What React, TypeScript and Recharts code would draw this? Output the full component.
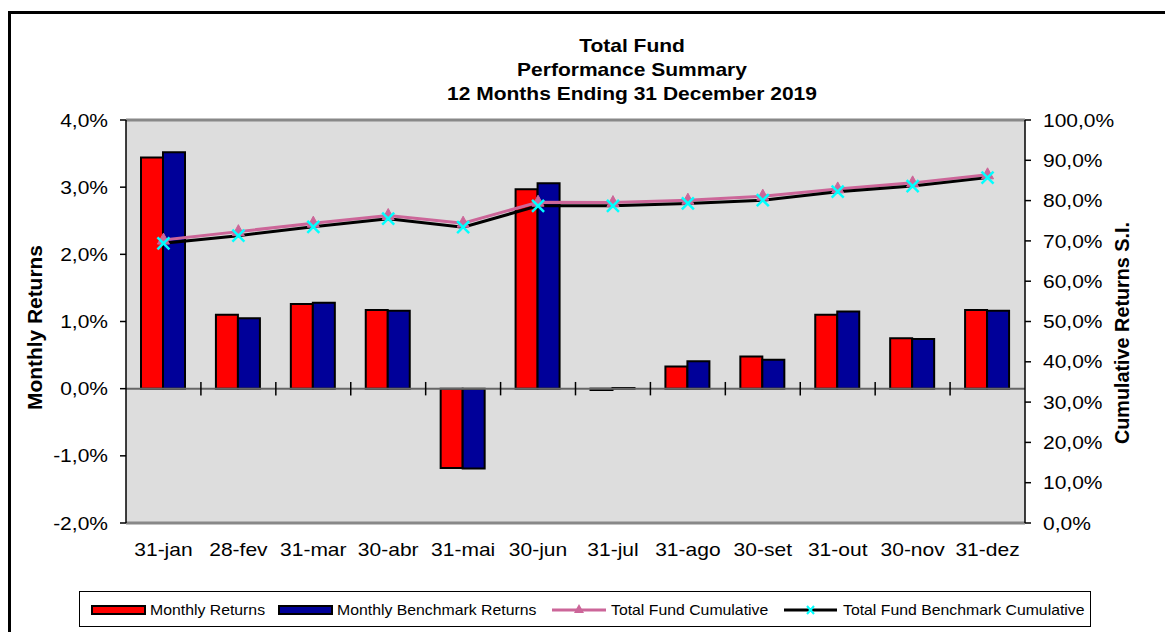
import React from 'react';
import { ComposedChart, Bar, Line, XAxis, YAxis, CartesianGrid, ReferenceLine } from 'recharts';

const categories = ['31-jan', '28-fev', '31-mar', '30-abr', '31-mai', '30-jun', '31-jul', '31-ago', '30-set', '31-out', '30-nov', '31-dez'];
const monthlyReturns = [3.44, 1.1, 1.26, 1.17, -1.18, 2.97, -0.02, 0.33, 0.48, 1.1, 0.75, 1.17];
const benchmarkReturns = [3.52, 1.05, 1.28, 1.16, -1.19, 3.06, 0.01, 0.41, 0.43, 1.15, 0.74, 1.16];
const fundCumulative = [70.2, 72.3, 74.4, 76.3, 74.4, 79.6, 79.5, 80.1, 81.1, 82.9, 84.4, 86.4];
const benchCumulative = [69.4, 71.3, 73.5, 75.5, 73.4, 78.7, 78.7, 79.3, 80.1, 82.2, 83.6, 85.7];
const leftTicks = [-2, -1, 0, 1, 2, 3, 4];
const rightTicks = [0, 10, 20, 30, 40, 50, 60, 70, 80, 90, 100];
const titleLines = ['Total Fund', 'Performance Summary', '12 Months Ending 31 December 2019'];
const seriesNames = ['Monthly Returns', 'Monthly Benchmark Returns', 'Total Fund Cumulative', 'Total Fund Benchmark Cumulative'];

const data = categories.map((month, i) => ({
  month,
  fund: monthlyReturns[i],
  bench: benchmarkReturns[i],
  fundCum: fundCumulative[i],
  benchCum: benchCumulative[i],
}));

const FONT = '"Liberation Sans", Arial, Helvetica, sans-serif';
const SX = 1.13;
const RED = '#FF0000';
const BLUE = '#000099';
const PINK = '#CC6699';
const CYAN = '#00FFFF';

const pct = (v: number) => v.toFixed(1).replace('.', ',') + '%';

const YTick = (props: any) => {
  const { x, y, payload, textAnchor } = props;
  return (
    <text transform={`translate(${x},${y}) scale(${SX},1)`} textAnchor={textAnchor} dy="0.355em" fontSize={18.6} fontFamily={FONT} fill="#000">
      {pct(payload.value)}
    </text>
  );
};

const XTick = (props: any) => {
  const { x, y, payload } = props;
  return (
    <text transform={`translate(${x},${y}) scale(${SX},1)`} textAnchor="middle" dy="0.71em" fontSize={18.6} fontFamily={FONT} fill="#000">
      {payload.value}
    </text>
  );
};

const Triangle = (props: any) => {
  const { cx, cy } = props;
  if (cx == null || cy == null) return null;
  return <path d={`M${cx},${cy - 7} L${cx + 6},${cy + 4} L${cx - 6},${cy + 4} Z`} fill={PINK} stroke={PINK} strokeWidth={1} />;
};

const XMark = (props: any) => {
  const { cx, cy } = props;
  if (cx == null || cy == null) return null;
  const s = 6;
  return (
    <g>
      <line x1={cx - s} y1={cy - s} x2={cx + s} y2={cy + s} stroke={CYAN} strokeWidth={2.5} />
      <line x1={cx - s} y1={cy + s} x2={cx + s} y2={cy - s} stroke={CYAN} strokeWidth={2.5} />
    </g>
  );
};

const legendLayout = [
  { sx: 92, tx: 150 },
  { sx: 279, tx: 337 },
  { sx: 552, tx: 611 },
  { sx: 784, tx: 843 },
];

export default function App() {
  return (
    <div style={{ position: 'absolute', left: 0, top: 0, width: 1165, height: 632, overflow: 'hidden', background: '#fff' }}>
      <div style={{ position: 'absolute', left: 8, top: 11, width: 1300, height: 800, border: '3px solid #000', boxSizing: 'border-box' }} />
      <div style={{ position: 'absolute', left: 0, top: 0 }}>
        <ComposedChart width={1165} height={632} data={data} margin={{ top: 120, right: 0, bottom: 79, left: 0 }} barGap={0}>
          <CartesianGrid yAxisId="left" fill="#DDDDDD" fillOpacity={1} horizontal={false} vertical={false} stroke="none" />
          <XAxis dataKey="month" tick={<XTick />} tickLine={false} axisLine={false} height={30} interval={0} tickSize={0} tickMargin={20} />
          <YAxis
            yAxisId="left"
            domain={[-2, 4]}
            ticks={leftTicks}
            width={126}
            tickSize={6}
            tickMargin={12}
            tick={<YTick />}
            axisLine={{ stroke: '#000', strokeWidth: 1.5 }}
            tickLine={{ stroke: '#000', strokeWidth: 1.5 }}
            interval={0}
          />
          <YAxis
            yAxisId="right"
            orientation="right"
            domain={[0, 100]}
            ticks={rightTicks}
            width={140}
            tickSize={6}
            tickMargin={12}
            tick={<YTick />}
            axisLine={{ stroke: '#000', strokeWidth: 1.5 }}
            tickLine={{ stroke: '#000', strokeWidth: 1.5 }}
            interval={0}
          />
          <ReferenceLine yAxisId="left" y={4} stroke="#888" strokeWidth={3} />
          <ReferenceLine yAxisId="left" y={-2} stroke="#888" strokeWidth={3} />
          <ReferenceLine yAxisId="left" y={0} stroke="#666" strokeWidth={2} />
          {categories.slice(1).map((c) => (
            <ReferenceLine
              key={c}
              yAxisId="left"
              position="start"
              segment={[{ x: c, y: -0.1 }, { x: c, y: 0.1 }]}
              stroke="#000"
              strokeWidth={1.5}
            />
          ))}
          <Bar yAxisId="left" dataKey="fund" name={seriesNames[0]} fill={RED} stroke="#000" strokeWidth={2} barSize={22} isAnimationActive={false} />
          <Bar yAxisId="left" dataKey="bench" name={seriesNames[1]} fill={BLUE} stroke="#000" strokeWidth={2} barSize={22} isAnimationActive={false} />
          <Line yAxisId="right" dataKey="fundCum" name={seriesNames[2]} stroke={PINK} strokeWidth={3} dot={<Triangle />} activeDot={false} isAnimationActive={false} />
          <Line yAxisId="right" dataKey="benchCum" name={seriesNames[3]} stroke="#000" strokeWidth={3} dot={<XMark />} activeDot={false} isAnimationActive={false} />
        </ComposedChart>
      </div>
      <svg width={1165} height={632} style={{ position: 'absolute', left: 0, top: 0, pointerEvents: 'none' }}>
        {titleLines.map((t, i) => (
          <text key={t} transform={`translate(632,${51.5 + i * 24}) scale(${SX},1)`} textAnchor="middle" fontSize={18.6} fontWeight="bold" fontFamily={FONT} fill="#000">
            {t}
          </text>
        ))}
        <text transform="translate(41.5,327.5) rotate(-90)" textAnchor="middle" fontSize={20.9} fontWeight="bold" fontFamily={FONT} fill="#000">
          Monthly Returns
        </text>
        <text transform="translate(1129,333) rotate(-90)" textAnchor="middle" fontSize={19.8} fontWeight="bold" fontFamily={FONT} fill="#000">
          Cumulative Returns S.I.
        </text>
        <rect x={79.5} y={591.5} width={1011} height={35} fill="#fff" stroke="#000" strokeWidth={1} />
        {seriesNames.map((name, i) => {
          const L = legendLayout[i];
          let sw: React.ReactNode;
          if (i === 0 || i === 1) {
            sw = <rect x={L.sx} y={606} width={53} height={8} fill={i === 0 ? RED : BLUE} stroke="#000" strokeWidth={2} />;
          } else if (i === 2) {
            sw = (
              <g>
                <line x1={L.sx} y1={610} x2={L.sx + 54} y2={610} stroke={PINK} strokeWidth={3} />
                <path d={`M${L.sx + 27},${604} L${L.sx + 32},${613} L${L.sx + 22},${613} Z`} fill={PINK} />
              </g>
            );
          } else {
            sw = (
              <g>
                <line x1={L.sx} y1={610} x2={L.sx + 53} y2={610} stroke="#000" strokeWidth={3} />
                <line x1={L.sx + 23} y1={606} x2={L.sx + 30} y2={614} stroke={CYAN} strokeWidth={2} />
                <line x1={L.sx + 23} y1={614} x2={L.sx + 30} y2={606} stroke={CYAN} strokeWidth={2} />
              </g>
            );
          }
          return (
            <g key={name}>
              {sw}
              <text transform={`translate(${L.tx},614.5) scale(${SX},1)`} fontSize={14} fontFamily={FONT} fill="#000">
                {name}
              </text>
            </g>
          );
        })}
      </svg>
    </div>
  );
}
